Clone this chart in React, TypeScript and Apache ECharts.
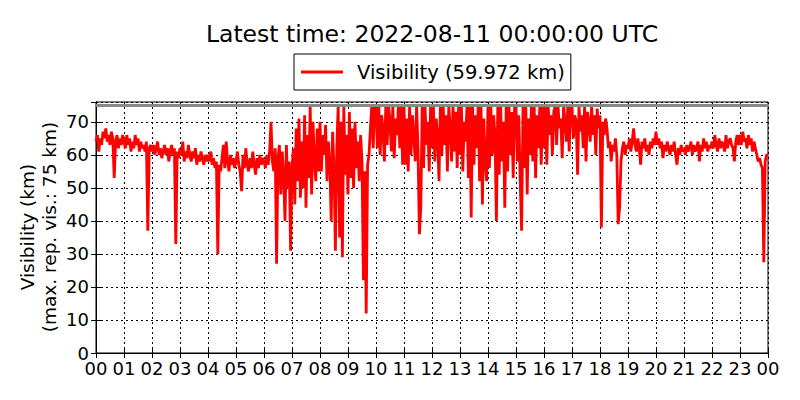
import React, { useEffect, useRef } from "react";
import * as echarts from "echarts";

// Visibility (km), 3-minute steps, starting 2022-08-10 00:00 UTC
const stepMinutes = 3;
const visH00to05 = [
  64, 66, 61, 65, 63, 67, 65, 68, 64, 66, 63, 67, 65, 53, 64, 66, 62, 65, 63, 66,
  64, 62, 66, 63, 65, 61, 64, 62, 66, 63, 65, 61, 64, 62, 63, 61, 64, 37, 62, 63,
  61, 63, 60, 62, 64, 60, 62, 59, 61, 63, 60, 62, 58, 61, 63, 60, 62, 33, 61, 59,
  62, 60, 64, 58, 61, 59, 63, 60, 58, 61, 59, 62, 57, 60, 58, 61, 59, 57, 60, 58,
  60, 58, 61, 57, 59, 56, 58, 30, 57, 55, 59, 63, 56, 64, 58, 55, 60, 57, 59, 56,
  58, 61, 57, 55, 49, 60, 56, 62, 57, 55, 59, 56, 61, 57, 54, 59, 56, 60, 57, 59,
];
const visH06to11 = [
  58, 56, 60, 57, 61, 70, 58, 55, 62, 27, 59, 63, 48, 61, 54, 40, 63, 50, 58, 31,
  56, 62, 45, 68, 52, 71, 47, 64, 50, 72, 44, 66, 53, 75, 48, 70, 58, 52, 68, 55,
  70, 55, 66, 60, 69, 52, 64, 58, 40, 67, 56, 31, 62, 75, 35, 70, 29, 75, 54, 66,
  48, 73, 53, 68, 50, 70, 56, 64, 52, 66, 58, 22, 55, 12, 57, 60, 68, 75, 62, 75,
  75, 62, 75, 60, 72, 68, 58, 75, 63, 75, 70, 61, 75, 59, 71, 66, 75, 62, 75, 57,
  75, 57, 71, 55, 75, 60, 72, 66, 58, 75, 62, 36, 44, 75, 56, 75, 63, 70, 55, 75,
];
const visH12to17 = [
  62, 75, 58, 71, 66, 52, 75, 60, 75, 63, 72, 55, 75, 68, 58, 75, 61, 73, 56, 75,
  60, 75, 55, 70, 64, 75, 53, 75, 41, 75, 57, 72, 62, 75, 52, 75, 45, 71, 58, 52,
  75, 56, 75, 60, 72, 66, 40, 75, 54, 75, 58, 70, 44, 75, 55, 75, 60, 73, 53, 75,
  75, 58, 72, 52, 37, 75, 56, 75, 48, 71, 60, 75, 58, 75, 53, 72, 62, 75, 57, 75,
  62, 75, 57, 75, 66, 72, 60, 73, 75, 63, 75, 68, 71, 59, 75, 70, 64, 75, 61, 75,
  75, 65, 72, 70, 54, 75, 67, 72, 62, 75, 58, 73, 70, 64, 75, 66, 72, 60, 74, 68,
];
const visH18to23 = [
  72, 38, 70, 66, 71, 68, 62, 64, 58, 63, 61, 65, 60, 39, 44, 58, 62, 64, 60, 63,
  62, 65, 61, 64, 68, 63, 61, 65, 62, 57, 64, 62, 65, 61, 63, 60, 64, 62, 65, 63,
  67, 63, 65, 62, 64, 59, 63, 61, 64, 62, 60, 63, 61, 64, 60, 57, 62, 60, 63, 61,
  62, 60, 63, 61, 62, 64, 60, 63, 61, 62, 64, 58, 63, 61, 65, 62, 64, 61, 63, 62,
  64, 62, 66, 63, 61, 65, 62, 64, 63, 61, 66, 62, 64, 65, 63, 62, 58, 64, 66, 63,
  66, 63, 67, 64, 65, 62, 66, 63, 65, 61, 64, 62, 60, 58, 59, 57, 56, 27.5, 58, 60,
];
const lastValue = 59.972;
const maxReportable = 75;
const titleText = "Latest time: 2022-08-11 00:00:00 UTC";
const yTitle1 = "Visibility (km)";
const yTitle2 = "(max. rep. vis.: 75 km)";

const FONT = "DejaVu Sans";

export default function App() {
  const ref = useRef<HTMLDivElement>(null);
  useEffect(() => {
    if (!ref.current) return;
    const chart = echarts.init(ref.current, undefined, { renderer: "svg" });
    const values = [...visH00to05, ...visH06to11, ...visH12to17, ...visH18to23, lastValue];
    const data = values.map((v, i) => [(i * stepMinutes) / 60, v]);
    const legendName = `Visibility (${lastValue.toFixed(3)} km)`;
    const axisCommon = {
      type: "value",
      axisLine: { show: true, lineStyle: { color: "#000", width: 1 } },
      axisTick: { show: true, inside: true, length: 5, lineStyle: { color: "#000" } },
    };
    const option: any = {
      animation: false,
      backgroundColor: "#fff",
      title: {
        text: titleText,
        left: 432,
        top: 22,
        textAlign: "center",
        padding: 0,
        textStyle: { fontFamily: FONT, fontSize: 23.5, fontWeight: "normal", color: "#000" },
      },
      legend: {
        left: 294,
        top: 54,
        padding: [6, 6, 6, 7],
        borderColor: "#000",
        borderWidth: 1,
        itemWidth: 42,
        itemHeight: 3,
        data: [{ name: legendName, icon: "rect" }],
        textStyle: {
          fontFamily: FONT,
          fontSize: 19.5,
          color: "#000",
          lineHeight: 24,
          padding: [0, 0, 0, 9],
        },
      },
      grid: {
        left: 96,
        right: 32,
        top: 102,
        bottom: 47,
        show: true,
        borderColor: "#000",
        borderWidth: 1,
      },
      xAxis: [
        {
          ...axisCommon,
          min: 0,
          max: 24,
          interval: 1,
          position: "bottom",
          axisLabel: {
            fontFamily: FONT,
            fontSize: 18,
            color: "#000",
            margin: 6,
            formatter: (v: number) => String(Math.round(v) % 24).padStart(2, "0"),
          },
          splitLine: { show: true, lineStyle: { color: "#000", width: 1, type: [2, 3] } },
        },
        {
          ...axisCommon,
          min: 0,
          max: 24,
          interval: 1,
          position: "top",
          axisLabel: { show: false },
          splitLine: { show: false },
        },
      ],
      yAxis: [
        {
          ...axisCommon,
          min: 0,
          max: 76,
          interval: 10,
          position: "left",
          axisLabel: {
            fontFamily: FONT,
            fontSize: 18,
            color: "#000",
            margin: 7,
            showMaxLabel: false,
          },
          splitLine: { show: true, lineStyle: { color: "#000", width: 1, type: [2, 3] } },
        },
        {
          ...axisCommon,
          min: 0,
          max: 76,
          interval: 10,
          position: "right",
          axisLabel: { show: false },
          splitLine: { show: false },
        },
      ],
      graphic: [
        {
          type: "text",
          x: 27,
          y: 227,
          rotation: Math.PI / 2,
          style: {
            text: yTitle1,
            fontFamily: FONT,
            fontSize: 18.5,
            fill: "#000",
            align: "center",
            verticalAlign: "middle",
          },
        },
        {
          type: "text",
          x: 49,
          y: 227,
          rotation: Math.PI / 2,
          style: {
            text: yTitle2,
            fontFamily: FONT,
            fontSize: 18.5,
            fill: "#000",
            align: "center",
            verticalAlign: "middle",
          },
        },
      ],
      series: [
        {
          name: legendName,
          type: "line",
          xAxisIndex: 0,
          yAxisIndex: 0,
          data,
          showSymbol: false,
          symbol: "none",
          lineStyle: { color: "#ff0000", width: 2.8 },
          itemStyle: { color: "#ff0000" },
          markLine: {
            silent: true,
            symbol: "none",
            label: { show: false },
            lineStyle: { color: "#888888", width: 3, type: "solid" },
            data: [{ yAxis: maxReportable }],
          },
        },
      ],
    };
    chart.setOption(option);
    return () => chart.dispose();
  }, []);
  return (
    <div
      ref={ref}
      style={{ position: "fixed", left: 0, top: 0, width: 800, height: 400, background: "#fff" }}
    />
  );
}
